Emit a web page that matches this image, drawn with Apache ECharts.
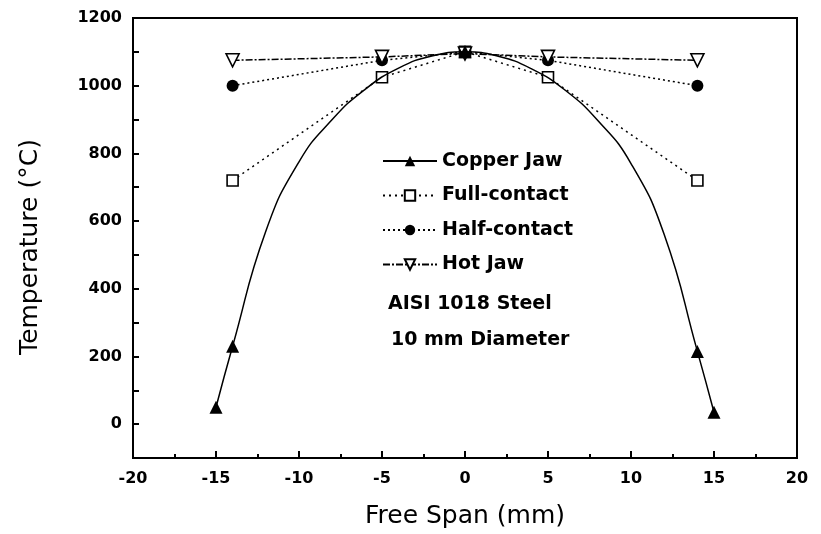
<!DOCTYPE html>
<html>
<head>
<meta charset="utf-8">
<script src="https://cdn.jsdelivr.net/npm/echarts@6/dist/echarts.min.js"></script>
<style>
html,body{margin:0;padding:0;background:#fff;}
#chart{width:821px;height:534px;}
</style>
</head>
<body>
<div id="chart"></div>
<script>
// ---- data ----
const seriesNames = ['Copper Jaw', 'Full-contact', 'Half-contact', 'Hot Jaw'];
// Copper Jaw: points along the drawn curve
const copperX = [-15, -14, -12, -10, -8, -6, -4, -2, 0, 2, 4, 6, 8, 10, 12, 14, 15];
const copperY = [50, 230, 570, 775, 900, 990, 1052, 1088, 1100, 1087, 1050, 988, 897, 770, 560, 215, 35];
// x positions where Copper Jaw has a measured marker
const copperMarkerX = [-15, -14, 0, 14, 15];
const fullX = [-14, -5, 0, 5, 14];
const fullY = [720, 1025, 1100, 1025, 720];
const halfX = [-14, -5, 0, 5, 14];
const halfY = [1000, 1075, 1100, 1075, 1000];
const hotX = [-14, -5, 0, 5, 14];
const hotY = [1075, 1085, 1095, 1085, 1075];
const xTicks = [-20, -15, -10, -5, 0, 5, 10, 15, 20];
const yTicks = [0, 200, 400, 600, 800, 1000, 1200];
const xTitle = 'Free Span (mm)';
const yTitle = 'Temperature (°C)';
const notes = ['AISI 1018 Steel', '10 mm Diameter'];

const zip = (xs, ys) => xs.map((x, i) => [x, ys[i]]);
const FONT = 'DejaVu Sans';

const copperData = copperX.map((x, i) => copperMarkerX.includes(x)
  ? {value: [x, copperY[i]]}
  : {value: [x, copperY[i]], symbol: 'none'});

const chart = echarts.init(document.getElementById('chart'), null, {renderer: 'canvas'});
const option = {
  backgroundColor: '#fff',
  animation: false,
  grid: {left: 133, right: 24, top: 18, bottom: 76, show: true, borderColor: '#000', borderWidth: 2, backgroundColor: 'transparent'},
  xAxis: {
    type: 'value', min: xTicks[0], max: xTicks[xTicks.length - 1], interval: 5,
    axisLine: {show: true, onZero: false, lineStyle: {color: '#000', width: 2}},
    axisTick: {show: true, inside: true, length: 7, lineStyle: {color: '#000', width: 2}},
    minorTick: {show: true, splitNumber: 2, length: 4, lineStyle: {color: '#000', width: 2}},
    axisLabel: {fontFamily: FONT, fontWeight: 'bold', fontSize: 16, color: '#000', margin: 13,
      formatter: v => xTicks.includes(v) ? String(v) : ''},
    splitLine: {show: false}
  },
  yAxis: {
    type: 'value', min: -100, max: 1200, interval: 100,
    axisLine: {show: true, onZero: false, lineStyle: {color: '#000', width: 2}},
    axisTick: {show: true, inside: true, length: 6, lineStyle: {color: '#000', width: 2}},
    axisLabel: {fontFamily: FONT, fontWeight: 'bold', fontSize: 16, color: '#000', margin: 11,
      formatter: v => yTicks.includes(v) ? String(v) : ''},
    splitLine: {show: false}
  },
  legend: {
    orient: 'vertical', left: 377, top: 146, itemWidth: 54, itemHeight: 13, itemGap: 14.5,
    data: seriesNames,
    textStyle: {fontFamily: FONT, fontWeight: 'bold', fontSize: 19, color: '#000', lineHeight: 20}
  },
  graphic: [
    {type: 'text', x: 30, y: 247, rotation: Math.PI / 2,
      style: {text: yTitle, fontFamily: FONT, fontSize: 25, fill: '#000', align: 'center', verticalAlign: 'middle'}},
    {type: 'text', x: 465, y: 516,
      style: {text: xTitle, fontFamily: FONT, fontSize: 25, fill: '#000', align: 'center', verticalAlign: 'middle'}},
    {type: 'text', left: 388, top: 295, style: {text: notes[0], fontFamily: FONT, fontWeight: 'bold', fontSize: 19, fill: '#000'}},
    {type: 'text', left: 391, top: 331, style: {text: notes[1], fontFamily: FONT, fontWeight: 'bold', fontSize: 19, fill: '#000'}}
  ],
  series: [
    {
      name: seriesNames[0], type: 'line', data: copperData, smooth: 0.5,
      symbol: 'triangle', symbolSize: 13,
      itemStyle: {color: '#000'}, lineStyle: {color: '#000', width: 1.5}, z: 5
    },
    {
      name: seriesNames[1], type: 'line', data: zip(fullX, fullY),
      symbol: 'rect', symbolSize: 11,
      itemStyle: {color: '#fff', borderColor: '#000', borderWidth: 1.6},
      lineStyle: {color: '#000', width: 1.5, type: [2, 4]}, z: 4
    },
    {
      name: seriesNames[2], type: 'line', data: zip(halfX, halfY),
      symbol: 'circle', symbolSize: 12,
      itemStyle: {color: '#000'},
      lineStyle: {color: '#000', width: 1.5, type: [2, 3]}, z: 4
    },
    {
      name: seriesNames[3], type: 'line', data: zip(hotX, hotY),
      symbol: 'triangle', symbolRotate: 180, symbolSize: 13,
      itemStyle: {color: '#fff', borderColor: '#000', borderWidth: 1.6},
      lineStyle: {color: '#000', width: 1.5, type: [7, 2, 2, 2]}, z: 4
    }
  ]
};
chart.setOption(option);
</script>
</body>
</html>
